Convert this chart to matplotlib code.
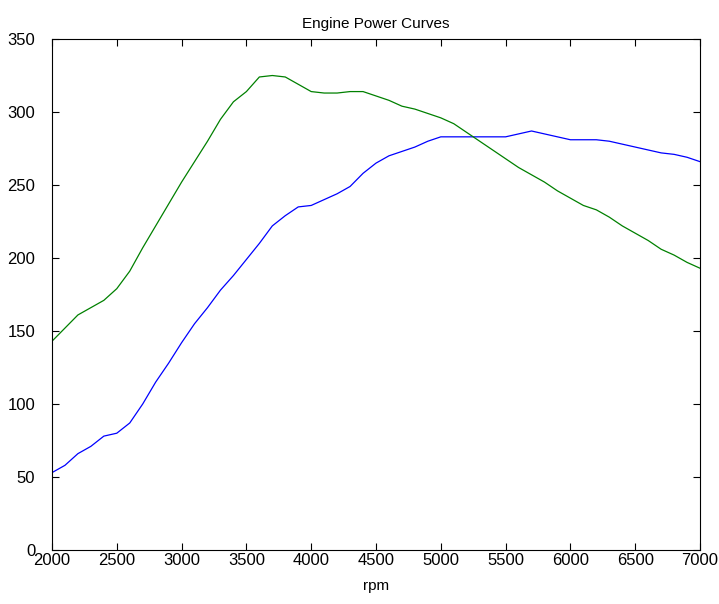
import matplotlib
matplotlib.use("Agg")
import matplotlib.pyplot as plt

rpm = list(range(2000, 7001, 100))

torque = [53, 58, 66, 71, 78, 80, 87, 100, 115, 128,
          142, 155, 166, 178, 188, 199, 210, 222, 229, 235,
          236, 240, 244, 249, 258, 265, 270, 273, 276, 280,
          283, 283, 283, 283, 283, 283, 285, 287, 285, 283,
          281, 281, 281, 280, 278, 276, 274, 272, 271, 269, 266]

power = [143, 152, 161, 166, 171, 179, 191, 207, 222, 237,
         252, 266, 280, 295, 307, 314, 324, 325, 324, 319,
         314, 313, 313, 314, 314, 311, 308, 304, 302, 299,
         296, 292, 286, 280, 274, 268, 262, 257, 252, 246,
         241, 236, 233, 228, 222, 217, 212, 206, 202, 197, 193]

plt.rcParams['font.family'] = ['Liberation Sans', 'DejaVu Sans']

fig = plt.figure(figsize=(7.19, 6.04), dpi=100)
ax = fig.add_axes([0.0723, 0.0894, 0.9013, 0.846])

ax.plot(rpm, torque, color=(0, 0, 1), lw=0.9)
ax.plot(rpm, power, color=(0, 0.5, 0), lw=0.9)

ax.set_xlim(2000, 7000)
ax.set_ylim(0, 350)
ax.set_xticks(range(2000, 7001, 500))
ax.set_yticks(range(0, 351, 50))
ax.tick_params(direction='in', top=True, right=True, length=5, labelsize=12)
ax.tick_params(axis='y', pad=12)
ax.tick_params(axis='x', pad=2)
for s in ax.spines.values():
    s.set_linewidth(0.8)

ax.set_xlabel('rpm', fontsize=11, labelpad=8)
ax.set_title('Engine Power Curves', fontsize=11, pad=8)

fig.savefig('out.png', dpi=100)
